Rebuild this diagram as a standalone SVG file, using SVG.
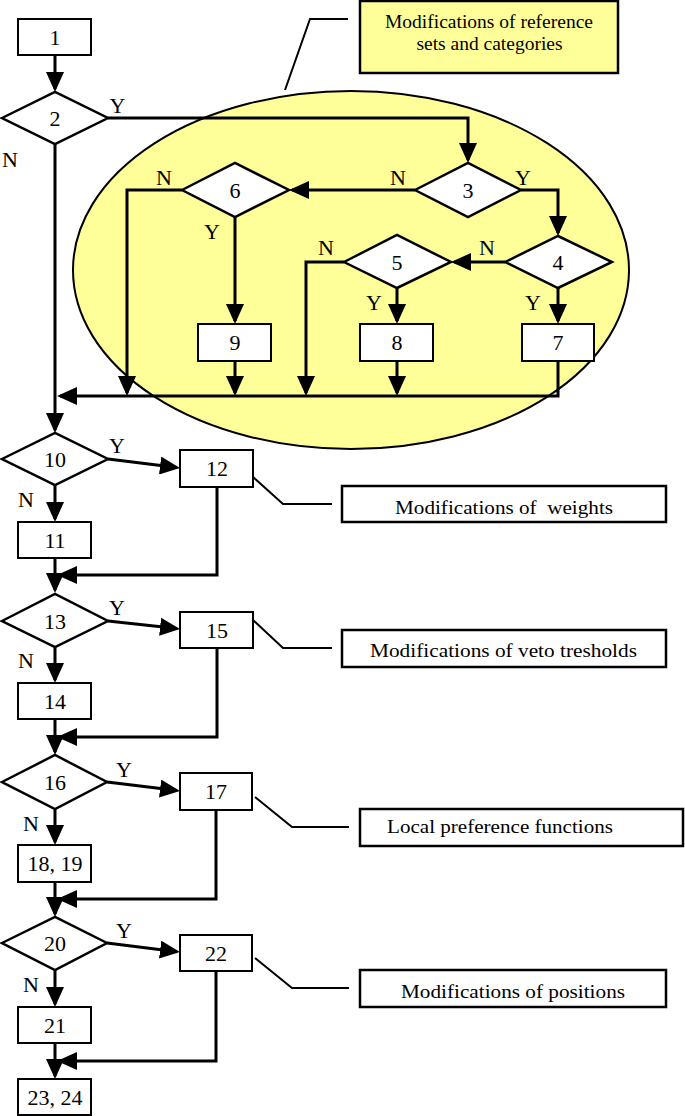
<svg xmlns="http://www.w3.org/2000/svg" width="685" height="1116" viewBox="0 0 685 1116">
<defs>
<style>
.box{fill:#fff;stroke:#000;stroke-width:2}
.dia{fill:#fff;stroke:#000;stroke-width:2.5}
.ln{fill:none;stroke:#000;stroke-width:3}
.arr{marker-end:url(#ah)}
.lead{fill:none;stroke:#000;stroke-width:2}
.ybox{fill:#ffff99;stroke:#000;stroke-width:2.5}
.wbox{fill:#fff;stroke:#000;stroke-width:2.5}
.t{font-family:"Liberation Serif","Times New Roman",serif;font-size:22px;text-anchor:middle;fill:#000}
.a{font-family:"Liberation Serif","Times New Roman",serif;font-size:19.5px;text-anchor:middle;fill:#000}
</style>
<marker id="ah" markerUnits="userSpaceOnUse" viewBox="0 0 20 18" markerWidth="20" markerHeight="18" refX="17" refY="9" orient="auto">
<path d="M0,0 L20,9 L0,18 z" fill="#000"/>
</marker>
</defs>
<rect width="685" height="1116" fill="#fff"/>

<g id="region">
<ellipse cx="351" cy="270" rx="278" ry="179" fill="#ffff99" stroke="#000" stroke-width="2"/>
</g>

<g id="annotations">
<g id="ann-ref">
<polyline class="lead" points="348,19 310,19 285,90"/>
<rect class="ybox" x="360" y="1" width="258" height="72"/>
<text class="a" x="489" y="28" textLength="208" lengthAdjust="spacingAndGlyphs">Modifications of reference</text>
<text class="a" x="489.5" y="50">sets and categories</text>
</g>
<g id="ann-weights">
<polyline class="lead" points="253,477 283,504 332,504"/>
<rect class="wbox" x="342" y="486" width="324" height="36"/>
<text class="a" x="504" y="514" xml:space="preserve" textLength="218" lengthAdjust="spacingAndGlyphs">Modifications of  weights</text>
</g>
<g id="ann-veto">
<polyline class="lead" points="253,620 283,648 332,648"/>
<rect class="wbox" x="342" y="630" width="324" height="37"/>
<text class="a" x="503.5" y="657" textLength="267" lengthAdjust="spacingAndGlyphs">Modifications of veto tresholds</text>
</g>
<g id="ann-local">
<polyline class="lead" points="255,797 292,827 349,827"/>
<rect class="wbox" x="360" y="809" width="323" height="37"/>
<text class="a" x="500" y="833" textLength="226" lengthAdjust="spacingAndGlyphs">Local preference functions</text>
</g>
<g id="ann-pos">
<polyline class="lead" points="255,958 292,988 349,988"/>
<rect class="wbox" x="360" y="970" width="306" height="37"/>
<text class="a" x="513" y="998" textLength="224" lengthAdjust="spacingAndGlyphs">Modifications of positions</text>
</g>
</g>

<g id="connectors">
<path class="ln arr" d="M55,55 V89"/>
<path class="ln arr" d="M55,144 V430"/>
<path class="ln arr" d="M108,118 H468 V160"/>
<path class="ln arr" d="M415,190 H292"/>
<path class="ln arr" d="M182,190 H127 V393"/>
<path class="ln arr" d="M235,217 V321"/>
<path class="ln arr" d="M521,190 H558 V233"/>
<path class="ln arr" d="M505,262 H454"/>
<path class="ln arr" d="M344,262 H306 V393"/>
<path class="ln arr" d="M397,288 V321"/>
<path class="ln arr" d="M558,288 V321"/>
<path class="ln arr" d="M235,361 V393"/>
<path class="ln arr" d="M397,361 V393"/>
<path class="ln arr" d="M558,361 V396 H60"/>
<path class="ln arr" d="M108,459 L177,467.6"/>
<path class="ln arr" d="M55,485 V519"/>
<path class="ln arr" d="M55,558 V590"/>
<path class="ln arr" d="M217,487 V575 H60"/>
<path class="ln arr" d="M108,621 L177,628.6"/>
<path class="ln arr" d="M55,647 V680"/>
<path class="ln arr" d="M55,719 V752"/>
<path class="ln arr" d="M217,648 V737 H60"/>
<path class="ln arr" d="M107,782 L177,790.6"/>
<path class="ln arr" d="M55,809 V842"/>
<path class="ln arr" d="M55,882 V914"/>
<path class="ln arr" d="M216,810 V899 H60"/>
<path class="ln arr" d="M107,943 L177,951.7"/>
<path class="ln arr" d="M55,970 V1004"/>
<path class="ln arr" d="M55,1043 V1076"/>
<path class="ln arr" d="M216,971 V1061 H60"/>
</g>

<g id="labels">
<text class="t" x="117.5" y="113">Y</text>
<text class="t" x="10" y="167">N</text>
<text class="t" x="398" y="185">N</text>
<text class="t" x="523" y="185">Y</text>
<text class="t" x="164" y="185">N</text>
<text class="t" x="212" y="239">Y</text>
<text class="t" x="487" y="255">N</text>
<text class="t" x="326" y="255">N</text>
<text class="t" x="374" y="310">Y</text>
<text class="t" x="533" y="310">Y</text>
<text class="t" x="117" y="453">Y</text>
<text class="t" x="26" y="507">N</text>
<text class="t" x="117" y="615">Y</text>
<text class="t" x="26" y="668">N</text>
<text class="t" x="124" y="777">Y</text>
<text class="t" x="31" y="831">N</text>
<text class="t" x="124" y="938">Y</text>
<text class="t" x="31" y="992">N</text>
</g>

<g id="n1"><rect class="box" x="18" y="19" width="73" height="36"/><text class="t" x="55" y="44.5">1</text></g>
<g id="n2"><polygon class="dia" points="2,118 55,92 108,118 55,144"/><text class="t" x="55" y="125.5">2</text></g>
<g id="n3"><polygon class="dia" points="415,190 468,163 521,190 468,217"/><text class="t" x="468" y="197.5">3</text></g>
<g id="n4"><polygon class="dia" points="505,262 558,236 612,262 558,288"/><text class="t" x="558" y="269.5">4</text></g>
<g id="n5"><polygon class="dia" points="344,262 397,235 451,262 397,288"/><text class="t" x="397" y="269.5">5</text></g>
<g id="n6"><polygon class="dia" points="182,190 235,163 289,190 235,217"/><text class="t" x="235" y="197.5">6</text></g>
<g id="n7"><rect class="box" x="522" y="324" width="72" height="37"/><text class="t" x="558" y="350">7</text></g>
<g id="n8"><rect class="box" x="360" y="324" width="73" height="37"/><text class="t" x="397" y="350">8</text></g>
<g id="n9"><rect class="box" x="198" y="324" width="73" height="37"/><text class="t" x="235" y="350">9</text></g>
<g id="n10"><polygon class="dia" points="2,459 55,433 108,459 55,485"/><text class="t" x="55" y="466.5">10</text></g>
<g id="n11"><rect class="box" x="18" y="522" width="73" height="36"/><text class="t" x="55" y="547.5">11</text></g>
<g id="n12"><rect class="box" x="180" y="450" width="73" height="37"/><text class="t" x="217" y="475.5">12</text></g>
<g id="n13"><polygon class="dia" points="2,621 55,594 108,621 55,647"/><text class="t" x="55" y="628.5">13</text></g>
<g id="n14"><rect class="box" x="18" y="683" width="73" height="36"/><text class="t" x="55" y="708.5">14</text></g>
<g id="n15"><rect class="box" x="180" y="612" width="73" height="36"/><text class="t" x="217" y="637.5">15</text></g>
<g id="n16"><polygon class="dia" points="2,782 55,755 107,782 55,809"/><text class="t" x="55" y="789.5">16</text></g>
<g id="n17"><rect class="box" x="180" y="773" width="72" height="37"/><text class="t" x="216" y="798.5">17</text></g>
<g id="n18"><rect class="box" x="18" y="845" width="73" height="37"/><text class="t" x="55" y="870.5">18, 19</text></g>
<g id="n20"><polygon class="dia" points="2,943 55,917 107,943 55,970"/><text class="t" x="55" y="950.5">20</text></g>
<g id="n21"><rect class="box" x="18" y="1007" width="73" height="36"/><text class="t" x="55" y="1032.5">21</text></g>
<g id="n22"><rect class="box" x="180" y="935" width="72" height="36"/><text class="t" x="216" y="960.5">22</text></g>
<g id="n23"><rect class="box" x="18" y="1079" width="73" height="36"/><text class="t" x="55" y="1104.5">23, 24</text></g>
</svg>
